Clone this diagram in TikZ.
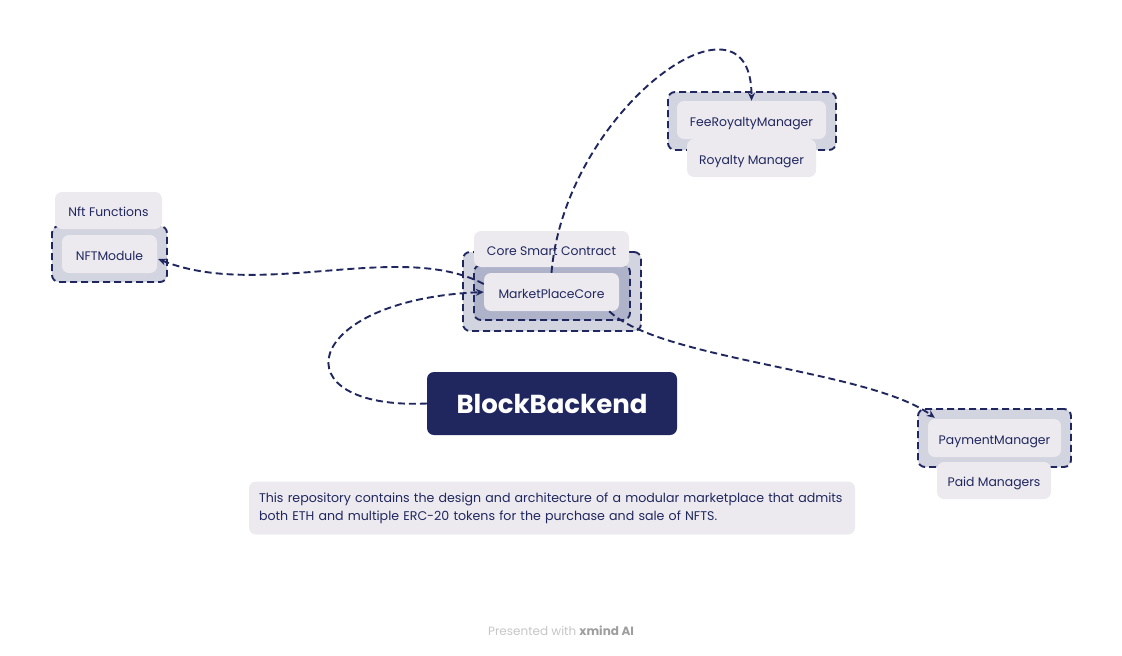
\documentclass[tikz,border=0pt]{standalone}
\usepackage{fontspec}
\setmainfont{Poppins}
\usetikzlibrary{arrows.meta,calc}

\definecolor{navy}{HTML}{20275F}
\definecolor{paper}{HTML}{ECEAEE}
\definecolor{groupfill}{HTML}{D2D4E0}
\definecolor{innerfill}{HTML}{AFB3C9}
\definecolor{footgrey}{HTML}{C6C6C6}

\begin{document}
\begin{tikzpicture}[x=1pt, y=-1pt, font=\fontsize{12.4}{15}\selectfont,
  topic/.style={fill=paper, text=navy, rounded corners=7pt, inner sep=0pt, text height=12pt, text depth=0pt},
  group/.style={fill=groupfill, draw=navy, line width=1.9pt, dash pattern=on 7pt off 4pt, rounded corners=7pt, inner sep=0pt},
  link/.style={draw=navy, line width=1.9pt, dash pattern=on 7pt off 4pt, -{Stealth[length=8pt,width=7pt]}}]

  \fill[white] (0,0) rectangle (1122,656);
  \useasboundingbox (0,0) rectangle (1122,656);

  % core smart contract
  \node[group, minimum width=178pt, minimum height=79pt] (coregrp) at (552,291.5) {};
  \node[group, fill=innerfill, minimum width=156pt, minimum height=55pt] (coreinner) at (552,292.5) {};
  \node[topic, minimum width=155pt, minimum height=36pt] (corelbl) at (551.5,249) {Core Smart Contract};
  \node[topic, minimum width=135pt, minimum height=38pt] (mpc) at (551.5,292) {MarketPlaceCore};

  % fee / royalty
  \node[group, minimum width=168pt, minimum height=58pt] (feegrp) at (752,121) {};
  \node[topic, minimum width=149pt, minimum height=38pt] (fee) at (751.5,120) {FeeRoyaltyManager};
  \node[topic, minimum width=129pt, minimum height=38pt] (roylbl) at (751.5,158) {Royalty Manager};

  % nft
  \node[group, minimum width=115pt, minimum height=56pt] (nftgrp) at (109.5,254) {};
  \node[topic, minimum width=107pt, minimum height=37pt] (nftlbl) at (108.5,210.5) {Nft Functions};
  \node[topic, minimum width=95pt, minimum height=38pt] (nft) at (109.5,254) {NFTModule};

  % payment
  \node[group, minimum width=153pt, minimum height=58pt] (paygrp) at (994.5,438) {};
  \node[topic, minimum width=133pt, minimum height=38pt] (pay) at (994.5,438) {PaymentManager};
  \node[topic, minimum width=114pt, minimum height=37pt] (paidlbl) at (994,480.5) {Paid Managers};

  % root
  \node[fill=navy, text=white, rounded corners=7pt, minimum width=250pt, minimum height=63pt,
    font=\fontsize{26}{30}\selectfont\bfseries] (root) at (552,403.5) {BlockBackend};

  % note
  \node[fill=paper, text=navy, rounded corners=7pt, text width=586pt, inner xsep=10pt, minimum height=53pt, align=left,
    font=\fontsize{12.6}{18}\selectfont] (note) at (552,508)
    {This repository contains the design and architecture of a modular marketplace that admits\\both ETH and multiple ERC-20 tokens for the purchase and sale of NFTS.};

  \node[text=footgrey, font=\fontsize{12}{14}\selectfont] (foot) at (561,631)
    {Presented with \textcolor{footgrey!80!black}{\bfseries xmind AI}};

  % connectors
  \draw[link] (root.west) .. controls (278,410) and (300,300) .. (mpc.west);
  \draw[link] ($(mpc.west)+(0,-8)$) .. controls (400,240) and (260,300) .. ($(nft.east)+(1,5)$);
  \draw[link] (mpc.north) .. controls (565,110) and (752,-25) .. (fee.north);
  \draw[link] ($(mpc.south east)+(-10,0)$) .. controls (660,360) and (870,370) .. ($(pay.north west)+(7,-1)$);
\end{tikzpicture}
\end{document}
